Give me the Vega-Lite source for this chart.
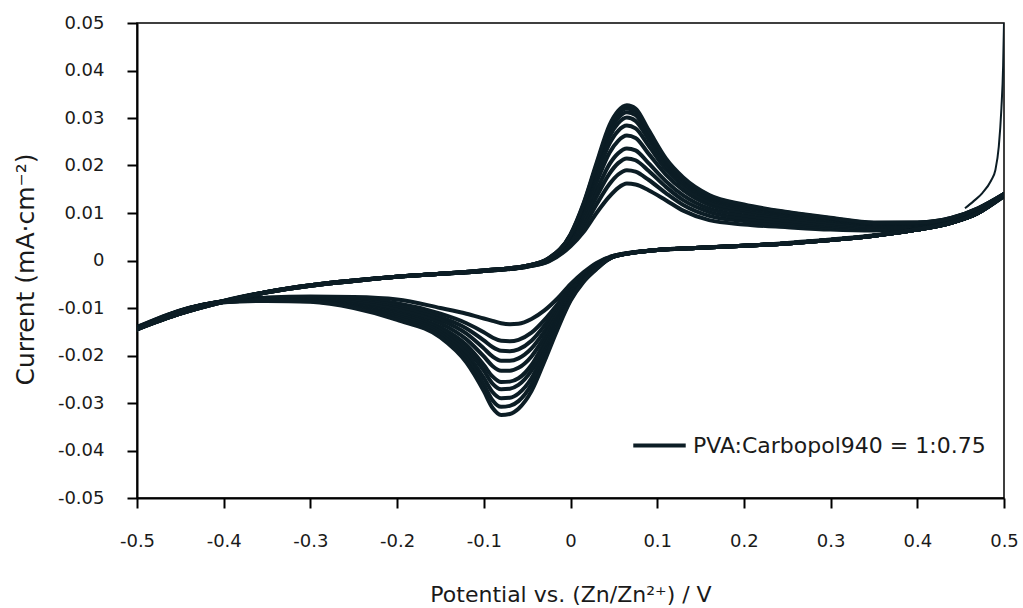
{
"$schema": "https://vega.github.io/schema/vega-lite/v6.json",
"width": 867, "height": 475,
"autosize": {"type": "none"},
"padding": {"left": 137, "top": 23, "right": 19, "bottom": 110},
"background": "white",
"config": {
  "font": "DejaVu Sans",
  "view": {"stroke": "#000", "strokeWidth": 1.5},
  "axis": {"grid": false, "domainColor": "#000", "domainWidth": 2, "tickColor": "#000", "tickWidth": 2, "tickSize": 10,
           "labelFontSize": 18, "labelColor": "#1a1a1a", "titleFontWeight": "normal", "titleColor": "#1a1a1a", "labelFlush": false}
},
"datasets": {
"cv": [
{"c":"f1","x":-0.5,"y":-0.014},{"c":"f1","x":-0.45,"y":-0.011},{"c":"f1","x":-0.4,"y":-0.0085},{"c":"f1","x":-0.35,"y":-0.0066},{"c":"f1","x":-0.3,"y":-0.0052},{"c":"f1","x":-0.25,"y":-0.0042},{"c":"f1","x":-0.2,"y":-0.0034},{"c":"f1","x":-0.15,"y":-0.0028},{"c":"f1","x":-0.1,"y":-0.0022},{"c":"f1","x":-0.05,"y":-0.0013},{"c":"f1","x":-0.025,"y":-0.0002},{"c":"f1","x":0,"y":0.003},{"c":"f1","x":0.015,"y":0.006},{"c":"f1","x":0.03,"y":0.01},{"c":"f1","x":0.045,"y":0.0135},{"c":"f1","x":0.055,"y":0.0153},{"c":"f1","x":0.065,"y":0.0162},{"c":"f1","x":0.075,"y":0.016},{"c":"f1","x":0.09,"y":0.0148},{"c":"f1","x":0.11,"y":0.0127},{"c":"f1","x":0.13,"y":0.0105},{"c":"f1","x":0.16,"y":0.0085},{"c":"f1","x":0.2,"y":0.0076},{"c":"f1","x":0.25,"y":0.007},{"c":"f1","x":0.3,"y":0.0065},{"c":"f1","x":0.35,"y":0.0063},{"c":"f1","x":0.4,"y":0.0068},{"c":"f1","x":0.44,"y":0.0082},{"c":"f1","x":0.47,"y":0.0103},{"c":"f1","x":0.5,"y":0.0135},
{"c":"r1","x":0.5,"y":0.0135},{"c":"r1","x":0.47,"y":0.01},{"c":"r1","x":0.44,"y":0.008},{"c":"r1","x":0.4,"y":0.0065},{"c":"r1","x":0.35,"y":0.0052},{"c":"r1","x":0.3,"y":0.0043},{"c":"r1","x":0.25,"y":0.0036},{"c":"r1","x":0.2,"y":0.0031},{"c":"r1","x":0.15,"y":0.0027},{"c":"r1","x":0.1,"y":0.0022},{"c":"r1","x":0.05,"y":0.001},{"c":"r1","x":0.03,"y":-0.0005},{"c":"r1","x":0.015,"y":-0.0025},{"c":"r1","x":0,"y":-0.005},{"c":"r1","x":-0.015,"y":-0.008},{"c":"r1","x":-0.03,"y":-0.0105},{"c":"r1","x":-0.045,"y":-0.0123},{"c":"r1","x":-0.06,"y":-0.0133},{"c":"r1","x":-0.07,"y":-0.0134},{"c":"r1","x":-0.08,"y":-0.0132},{"c":"r1","x":-0.09,"y":-0.0127},{"c":"r1","x":-0.1,"y":-0.0122},{"c":"r1","x":-0.12,"y":-0.0112},{"c":"r1","x":-0.15,"y":-0.01},{"c":"r1","x":-0.2,"y":-0.0082},{"c":"r1","x":-0.25,"y":-0.0077},{"c":"r1","x":-0.3,"y":-0.0076},{"c":"r1","x":-0.35,"y":-0.0078},{"c":"r1","x":-0.4,"y":-0.0085},{"c":"r1","x":-0.45,"y":-0.0105},{"c":"r1","x":-0.5,"y":-0.014},
{"c":"f2","x":-0.5,"y":-0.0141},{"c":"f2","x":-0.45,"y":-0.011},{"c":"f2","x":-0.4,"y":-0.0085},{"c":"f2","x":-0.35,"y":-0.0066},{"c":"f2","x":-0.3,"y":-0.0052},{"c":"f2","x":-0.25,"y":-0.0042},{"c":"f2","x":-0.2,"y":-0.0034},{"c":"f2","x":-0.15,"y":-0.0028},{"c":"f2","x":-0.1,"y":-0.0022},{"c":"f2","x":-0.05,"y":-0.0013},{"c":"f2","x":-0.025,"y":-0.0001},{"c":"f2","x":0,"y":0.0034},{"c":"f2","x":0.015,"y":0.007},{"c":"f2","x":0.03,"y":0.0118},{"c":"f2","x":0.045,"y":0.0161},{"c":"f2","x":0.055,"y":0.0181},{"c":"f2","x":0.065,"y":0.019},{"c":"f2","x":0.075,"y":0.0187},{"c":"f2","x":0.09,"y":0.017},{"c":"f2","x":0.11,"y":0.0142},{"c":"f2","x":0.13,"y":0.0117},{"c":"f2","x":0.16,"y":0.0094},{"c":"f2","x":0.2,"y":0.0083},{"c":"f2","x":0.25,"y":0.0075},{"c":"f2","x":0.3,"y":0.0069},{"c":"f2","x":0.35,"y":0.0066},{"c":"f2","x":0.4,"y":0.007},{"c":"f2","x":0.44,"y":0.0083},{"c":"f2","x":0.47,"y":0.0104},{"c":"f2","x":0.5,"y":0.0136},
{"c":"r2","x":0.5,"y":0.0136},{"c":"r2","x":0.47,"y":0.01},{"c":"r2","x":0.44,"y":0.008},{"c":"r2","x":0.4,"y":0.0065},{"c":"r2","x":0.35,"y":0.0052},{"c":"r2","x":0.3,"y":0.0043},{"c":"r2","x":0.25,"y":0.0036},{"c":"r2","x":0.2,"y":0.0031},{"c":"r2","x":0.15,"y":0.0027},{"c":"r2","x":0.1,"y":0.0022},{"c":"r2","x":0.05,"y":0.001},{"c":"r2","x":0.03,"y":-0.0007},{"c":"r2","x":0.015,"y":-0.0029},{"c":"r2","x":0,"y":-0.0057},{"c":"r2","x":-0.015,"y":-0.0092},{"c":"r2","x":-0.03,"y":-0.0125},{"c":"r2","x":-0.045,"y":-0.0152},{"c":"r2","x":-0.06,"y":-0.0167},{"c":"r2","x":-0.07,"y":-0.017},{"c":"r2","x":-0.08,"y":-0.0169},{"c":"r2","x":-0.09,"y":-0.0162},{"c":"r2","x":-0.1,"y":-0.0151},{"c":"r2","x":-0.12,"y":-0.0132},{"c":"r2","x":-0.15,"y":-0.0112},{"c":"r2","x":-0.2,"y":-0.009},{"c":"r2","x":-0.25,"y":-0.0081},{"c":"r2","x":-0.3,"y":-0.0078},{"c":"r2","x":-0.35,"y":-0.0079},{"c":"r2","x":-0.4,"y":-0.0086},{"c":"r2","x":-0.45,"y":-0.0105},{"c":"r2","x":-0.5,"y":-0.0141},
{"c":"f3","x":-0.5,"y":-0.0142},{"c":"f3","x":-0.45,"y":-0.0111},{"c":"f3","x":-0.4,"y":-0.0085},{"c":"f3","x":-0.35,"y":-0.0066},{"c":"f3","x":-0.3,"y":-0.0052},{"c":"f3","x":-0.25,"y":-0.0042},{"c":"f3","x":-0.2,"y":-0.0034},{"c":"f3","x":-0.15,"y":-0.0028},{"c":"f3","x":-0.1,"y":-0.0022},{"c":"f3","x":-0.05,"y":-0.0012},{"c":"f3","x":-0.025,"y":0},{"c":"f3","x":0,"y":0.0038},{"c":"f3","x":0.015,"y":0.0079},{"c":"f3","x":0.03,"y":0.0134},{"c":"f3","x":0.045,"y":0.0183},{"c":"f3","x":0.055,"y":0.0205},{"c":"f3","x":0.065,"y":0.0215},{"c":"f3","x":0.075,"y":0.0211},{"c":"f3","x":0.09,"y":0.0189},{"c":"f3","x":0.11,"y":0.0155},{"c":"f3","x":0.13,"y":0.0127},{"c":"f3","x":0.16,"y":0.0102},{"c":"f3","x":0.2,"y":0.0089},{"c":"f3","x":0.25,"y":0.008},{"c":"f3","x":0.3,"y":0.0073},{"c":"f3","x":0.35,"y":0.0068},{"c":"f3","x":0.4,"y":0.0072},{"c":"f3","x":0.44,"y":0.0085},{"c":"f3","x":0.47,"y":0.0105},{"c":"f3","x":0.5,"y":0.0137},
{"c":"r3","x":0.5,"y":0.0137},{"c":"r3","x":0.47,"y":0.01},{"c":"r3","x":0.44,"y":0.008},{"c":"r3","x":0.4,"y":0.0065},{"c":"r3","x":0.35,"y":0.0052},{"c":"r3","x":0.3,"y":0.0043},{"c":"r3","x":0.25,"y":0.0036},{"c":"r3","x":0.2,"y":0.0031},{"c":"r3","x":0.15,"y":0.0027},{"c":"r3","x":0.1,"y":0.0022},{"c":"r3","x":0.05,"y":0.0009},{"c":"r3","x":0.03,"y":-0.0009},{"c":"r3","x":0.015,"y":-0.0031},{"c":"r3","x":0,"y":-0.0061},{"c":"r3","x":-0.015,"y":-0.01},{"c":"r3","x":-0.03,"y":-0.0137},{"c":"r3","x":-0.045,"y":-0.0169},{"c":"r3","x":-0.06,"y":-0.0187},{"c":"r3","x":-0.07,"y":-0.0191},{"c":"r3","x":-0.08,"y":-0.019},{"c":"r3","x":-0.09,"y":-0.0182},{"c":"r3","x":-0.1,"y":-0.0168},{"c":"r3","x":-0.12,"y":-0.0143},{"c":"r3","x":-0.15,"y":-0.0119},{"c":"r3","x":-0.2,"y":-0.0095},{"c":"r3","x":-0.25,"y":-0.0084},{"c":"r3","x":-0.3,"y":-0.0079},{"c":"r3","x":-0.35,"y":-0.008},{"c":"r3","x":-0.4,"y":-0.0086},{"c":"r3","x":-0.45,"y":-0.0106},{"c":"r3","x":-0.5,"y":-0.0142},
{"c":"f4","x":-0.5,"y":-0.0142},{"c":"f4","x":-0.45,"y":-0.0111},{"c":"f4","x":-0.4,"y":-0.0086},{"c":"f4","x":-0.35,"y":-0.0066},{"c":"f4","x":-0.3,"y":-0.0052},{"c":"f4","x":-0.25,"y":-0.0042},{"c":"f4","x":-0.2,"y":-0.0034},{"c":"f4","x":-0.15,"y":-0.0028},{"c":"f4","x":-0.1,"y":-0.0022},{"c":"f4","x":-0.05,"y":-0.0012},{"c":"f4","x":-0.025,"y":0.0001},{"c":"f4","x":0,"y":0.0041},{"c":"f4","x":0.015,"y":0.0087},{"c":"f4","x":0.03,"y":0.0147},{"c":"f4","x":0.045,"y":0.0203},{"c":"f4","x":0.055,"y":0.0226},{"c":"f4","x":0.065,"y":0.0236},{"c":"f4","x":0.075,"y":0.0232},{"c":"f4","x":0.09,"y":0.0205},{"c":"f4","x":0.11,"y":0.0167},{"c":"f4","x":0.13,"y":0.0137},{"c":"f4","x":0.16,"y":0.0109},{"c":"f4","x":0.2,"y":0.0095},{"c":"f4","x":0.25,"y":0.0084},{"c":"f4","x":0.3,"y":0.0076},{"c":"f4","x":0.35,"y":0.0071},{"c":"f4","x":0.4,"y":0.0073},{"c":"f4","x":0.44,"y":0.0086},{"c":"f4","x":0.47,"y":0.0106},{"c":"f4","x":0.5,"y":0.0137},
{"c":"r4","x":0.5,"y":0.0137},{"c":"r4","x":0.47,"y":0.01},{"c":"r4","x":0.44,"y":0.008},{"c":"r4","x":0.4,"y":0.0065},{"c":"r4","x":0.35,"y":0.0052},{"c":"r4","x":0.3,"y":0.0043},{"c":"r4","x":0.25,"y":0.0036},{"c":"r4","x":0.2,"y":0.0031},{"c":"r4","x":0.15,"y":0.0027},{"c":"r4","x":0.1,"y":0.0022},{"c":"r4","x":0.05,"y":0.0009},{"c":"r4","x":0.03,"y":-0.001},{"c":"r4","x":0.015,"y":-0.0033},{"c":"r4","x":0,"y":-0.0064},{"c":"r4","x":-0.015,"y":-0.0107},{"c":"r4","x":-0.03,"y":-0.0149},{"c":"r4","x":-0.045,"y":-0.0185},{"c":"r4","x":-0.06,"y":-0.0206},{"c":"r4","x":-0.07,"y":-0.0211},{"c":"r4","x":-0.08,"y":-0.0211},{"c":"r4","x":-0.09,"y":-0.0202},{"c":"r4","x":-0.1,"y":-0.0185},{"c":"r4","x":-0.12,"y":-0.0154},{"c":"r4","x":-0.15,"y":-0.0125},{"c":"r4","x":-0.2,"y":-0.01},{"c":"r4","x":-0.25,"y":-0.0086},{"c":"r4","x":-0.3,"y":-0.0081},{"c":"r4","x":-0.35,"y":-0.0081},{"c":"r4","x":-0.4,"y":-0.0086},{"c":"r4","x":-0.45,"y":-0.0106},{"c":"r4","x":-0.5,"y":-0.0142},
{"c":"f5","x":-0.5,"y":-0.0143},{"c":"f5","x":-0.45,"y":-0.0111},{"c":"f5","x":-0.4,"y":-0.0086},{"c":"f5","x":-0.35,"y":-0.0066},{"c":"f5","x":-0.3,"y":-0.0052},{"c":"f5","x":-0.25,"y":-0.0042},{"c":"f5","x":-0.2,"y":-0.0034},{"c":"f5","x":-0.15,"y":-0.0028},{"c":"f5","x":-0.1,"y":-0.0022},{"c":"f5","x":-0.05,"y":-0.0012},{"c":"f5","x":-0.025,"y":0.0002},{"c":"f5","x":0,"y":0.0045},{"c":"f5","x":0.015,"y":0.0097},{"c":"f5","x":0.03,"y":0.0164},{"c":"f5","x":0.045,"y":0.0227},{"c":"f5","x":0.055,"y":0.0252},{"c":"f5","x":0.065,"y":0.0263},{"c":"f5","x":0.075,"y":0.0258},{"c":"f5","x":0.09,"y":0.0225},{"c":"f5","x":0.11,"y":0.0181},{"c":"f5","x":0.13,"y":0.0148},{"c":"f5","x":0.16,"y":0.0117},{"c":"f5","x":0.2,"y":0.0102},{"c":"f5","x":0.25,"y":0.009},{"c":"f5","x":0.3,"y":0.008},{"c":"f5","x":0.35,"y":0.0073},{"c":"f5","x":0.4,"y":0.0075},{"c":"f5","x":0.44,"y":0.0087},{"c":"f5","x":0.47,"y":0.0107},{"c":"f5","x":0.5,"y":0.0138},
{"c":"r5","x":0.5,"y":0.0138},{"c":"r5","x":0.47,"y":0.01},{"c":"r5","x":0.44,"y":0.008},{"c":"r5","x":0.4,"y":0.0065},{"c":"r5","x":0.35,"y":0.0052},{"c":"r5","x":0.3,"y":0.0043},{"c":"r5","x":0.25,"y":0.0036},{"c":"r5","x":0.2,"y":0.0031},{"c":"r5","x":0.15,"y":0.0027},{"c":"r5","x":0.1,"y":0.0022},{"c":"r5","x":0.05,"y":0.0009},{"c":"r5","x":0.03,"y":-0.0012},{"c":"r5","x":0.015,"y":-0.0035},{"c":"r5","x":0,"y":-0.0068},{"c":"r5","x":-0.015,"y":-0.0114},{"c":"r5","x":-0.03,"y":-0.0161},{"c":"r5","x":-0.045,"y":-0.0202},{"c":"r5","x":-0.06,"y":-0.0226},{"c":"r5","x":-0.07,"y":-0.0232},{"c":"r5","x":-0.08,"y":-0.0232},{"c":"r5","x":-0.09,"y":-0.0222},{"c":"r5","x":-0.1,"y":-0.0202},{"c":"r5","x":-0.12,"y":-0.0166},{"c":"r5","x":-0.15,"y":-0.0132},{"c":"r5","x":-0.2,"y":-0.0104},{"c":"r5","x":-0.25,"y":-0.0089},{"c":"r5","x":-0.3,"y":-0.0082},{"c":"r5","x":-0.35,"y":-0.0082},{"c":"r5","x":-0.4,"y":-0.0087},{"c":"r5","x":-0.45,"y":-0.0106},{"c":"r5","x":-0.5,"y":-0.0143},
{"c":"f6","x":-0.5,"y":-0.0144},{"c":"f6","x":-0.45,"y":-0.0111},{"c":"f6","x":-0.4,"y":-0.0086},{"c":"f6","x":-0.35,"y":-0.0067},{"c":"f6","x":-0.3,"y":-0.0053},{"c":"f6","x":-0.25,"y":-0.0043},{"c":"f6","x":-0.2,"y":-0.0034},{"c":"f6","x":-0.15,"y":-0.0028},{"c":"f6","x":-0.1,"y":-0.0021},{"c":"f6","x":-0.05,"y":-0.0012},{"c":"f6","x":-0.025,"y":0.0003},{"c":"f6","x":0,"y":0.0049},{"c":"f6","x":0.015,"y":0.0104},{"c":"f6","x":0.03,"y":0.0178},{"c":"f6","x":0.045,"y":0.0246},{"c":"f6","x":0.055,"y":0.0273},{"c":"f6","x":0.065,"y":0.0284},{"c":"f6","x":0.075,"y":0.0278},{"c":"f6","x":0.09,"y":0.0242},{"c":"f6","x":0.11,"y":0.0192},{"c":"f6","x":0.13,"y":0.0157},{"c":"f6","x":0.16,"y":0.0124},{"c":"f6","x":0.2,"y":0.0107},{"c":"f6","x":0.25,"y":0.0094},{"c":"f6","x":0.3,"y":0.0084},{"c":"f6","x":0.35,"y":0.0076},{"c":"f6","x":0.4,"y":0.0077},{"c":"f6","x":0.44,"y":0.0088},{"c":"f6","x":0.47,"y":0.0108},{"c":"f6","x":0.5,"y":0.0139},
{"c":"r6","x":0.5,"y":0.0139},{"c":"r6","x":0.47,"y":0.01},{"c":"r6","x":0.44,"y":0.008},{"c":"r6","x":0.4,"y":0.0065},{"c":"r6","x":0.35,"y":0.0052},{"c":"r6","x":0.3,"y":0.0043},{"c":"r6","x":0.25,"y":0.0036},{"c":"r6","x":0.2,"y":0.0031},{"c":"r6","x":0.15,"y":0.0027},{"c":"r6","x":0.1,"y":0.0022},{"c":"r6","x":0.05,"y":0.0009},{"c":"r6","x":0.03,"y":-0.0013},{"c":"r6","x":0.015,"y":-0.0038},{"c":"r6","x":0,"y":-0.0072},{"c":"r6","x":-0.015,"y":-0.0122},{"c":"r6","x":-0.03,"y":-0.0173},{"c":"r6","x":-0.045,"y":-0.022},{"c":"r6","x":-0.06,"y":-0.0248},{"c":"r6","x":-0.07,"y":-0.0255},{"c":"r6","x":-0.08,"y":-0.0256},{"c":"r6","x":-0.09,"y":-0.0244},{"c":"r6","x":-0.1,"y":-0.022},{"c":"r6","x":-0.12,"y":-0.0178},{"c":"r6","x":-0.15,"y":-0.014},{"c":"r6","x":-0.2,"y":-0.011},{"c":"r6","x":-0.25,"y":-0.0092},{"c":"r6","x":-0.3,"y":-0.0083},{"c":"r6","x":-0.35,"y":-0.0082},{"c":"r6","x":-0.4,"y":-0.0087},{"c":"r6","x":-0.45,"y":-0.0106},{"c":"r6","x":-0.5,"y":-0.0143},
{"c":"f7","x":-0.5,"y":-0.0144},{"c":"f7","x":-0.45,"y":-0.0112},{"c":"f7","x":-0.4,"y":-0.0087},{"c":"f7","x":-0.35,"y":-0.0067},{"c":"f7","x":-0.3,"y":-0.0053},{"c":"f7","x":-0.25,"y":-0.0043},{"c":"f7","x":-0.2,"y":-0.0034},{"c":"f7","x":-0.15,"y":-0.0028},{"c":"f7","x":-0.1,"y":-0.0021},{"c":"f7","x":-0.05,"y":-0.0011},{"c":"f7","x":-0.025,"y":0.0004},{"c":"f7","x":0,"y":0.0051},{"c":"f7","x":0.015,"y":0.011},{"c":"f7","x":0.03,"y":0.0188},{"c":"f7","x":0.045,"y":0.0261},{"c":"f7","x":0.055,"y":0.0289},{"c":"f7","x":0.065,"y":0.0301},{"c":"f7","x":0.075,"y":0.0294},{"c":"f7","x":0.09,"y":0.0255},{"c":"f7","x":0.11,"y":0.0201},{"c":"f7","x":0.13,"y":0.0164},{"c":"f7","x":0.16,"y":0.013},{"c":"f7","x":0.2,"y":0.0111},{"c":"f7","x":0.25,"y":0.0097},{"c":"f7","x":0.3,"y":0.0086},{"c":"f7","x":0.35,"y":0.0077},{"c":"f7","x":0.4,"y":0.0078},{"c":"f7","x":0.44,"y":0.0089},{"c":"f7","x":0.47,"y":0.0109},{"c":"f7","x":0.5,"y":0.0139},
{"c":"r7","x":0.5,"y":0.0139},{"c":"r7","x":0.47,"y":0.01},{"c":"r7","x":0.44,"y":0.008},{"c":"r7","x":0.4,"y":0.0065},{"c":"r7","x":0.35,"y":0.0052},{"c":"r7","x":0.3,"y":0.0043},{"c":"r7","x":0.25,"y":0.0036},{"c":"r7","x":0.2,"y":0.0031},{"c":"r7","x":0.15,"y":0.0027},{"c":"r7","x":0.1,"y":0.0022},{"c":"r7","x":0.05,"y":0.0009},{"c":"r7","x":0.03,"y":-0.0014},{"c":"r7","x":0.015,"y":-0.0039},{"c":"r7","x":0,"y":-0.0075},{"c":"r7","x":-0.015,"y":-0.0127},{"c":"r7","x":-0.03,"y":-0.0182},{"c":"r7","x":-0.045,"y":-0.0232},{"c":"r7","x":-0.06,"y":-0.0262},{"c":"r7","x":-0.07,"y":-0.027},{"c":"r7","x":-0.08,"y":-0.0271},{"c":"r7","x":-0.09,"y":-0.0259},{"c":"r7","x":-0.1,"y":-0.0232},{"c":"r7","x":-0.12,"y":-0.0186},{"c":"r7","x":-0.15,"y":-0.0145},{"c":"r7","x":-0.2,"y":-0.0113},{"c":"r7","x":-0.25,"y":-0.0094},{"c":"r7","x":-0.3,"y":-0.0084},{"c":"r7","x":-0.35,"y":-0.0083},{"c":"r7","x":-0.4,"y":-0.0087},{"c":"r7","x":-0.45,"y":-0.0106},{"c":"r7","x":-0.5,"y":-0.0144},
{"c":"f8","x":-0.5,"y":-0.0145},{"c":"f8","x":-0.45,"y":-0.0112},{"c":"f8","x":-0.4,"y":-0.0087},{"c":"f8","x":-0.35,"y":-0.0067},{"c":"f8","x":-0.3,"y":-0.0053},{"c":"f8","x":-0.25,"y":-0.0043},{"c":"f8","x":-0.2,"y":-0.0034},{"c":"f8","x":-0.15,"y":-0.0028},{"c":"f8","x":-0.1,"y":-0.0021},{"c":"f8","x":-0.05,"y":-0.0011},{"c":"f8","x":-0.025,"y":0.0004},{"c":"f8","x":0,"y":0.0053},{"c":"f8","x":0.015,"y":0.0115},{"c":"f8","x":0.03,"y":0.0196},{"c":"f8","x":0.045,"y":0.0272},{"c":"f8","x":0.055,"y":0.03},{"c":"f8","x":0.065,"y":0.0312},{"c":"f8","x":0.075,"y":0.0306},{"c":"f8","x":0.09,"y":0.0264},{"c":"f8","x":0.11,"y":0.0207},{"c":"f8","x":0.13,"y":0.0169},{"c":"f8","x":0.16,"y":0.0133},{"c":"f8","x":0.2,"y":0.0114},{"c":"f8","x":0.25,"y":0.0099},{"c":"f8","x":0.3,"y":0.0088},{"c":"f8","x":0.35,"y":0.0078},{"c":"f8","x":0.4,"y":0.0079},{"c":"f8","x":0.44,"y":0.0089},{"c":"f8","x":0.47,"y":0.0109},{"c":"f8","x":0.5,"y":0.014},
{"c":"r8","x":0.5,"y":0.014},{"c":"r8","x":0.47,"y":0.01},{"c":"r8","x":0.44,"y":0.008},{"c":"r8","x":0.4,"y":0.0065},{"c":"r8","x":0.35,"y":0.0052},{"c":"r8","x":0.3,"y":0.0043},{"c":"r8","x":0.25,"y":0.0036},{"c":"r8","x":0.2,"y":0.0031},{"c":"r8","x":0.15,"y":0.0027},{"c":"r8","x":0.1,"y":0.0022},{"c":"r8","x":0.05,"y":0.0008},{"c":"r8","x":0.03,"y":-0.0016},{"c":"r8","x":0.015,"y":-0.0041},{"c":"r8","x":0,"y":-0.0079},{"c":"r8","x":-0.015,"y":-0.0133},{"c":"r8","x":-0.03,"y":-0.0193},{"c":"r8","x":-0.045,"y":-0.0248},{"c":"r8","x":-0.06,"y":-0.028},{"c":"r8","x":-0.07,"y":-0.0289},{"c":"r8","x":-0.08,"y":-0.029},{"c":"r8","x":-0.09,"y":-0.0277},{"c":"r8","x":-0.1,"y":-0.0247},{"c":"r8","x":-0.12,"y":-0.0196},{"c":"r8","x":-0.15,"y":-0.0151},{"c":"r8","x":-0.2,"y":-0.0117},{"c":"r8","x":-0.25,"y":-0.0096},{"c":"r8","x":-0.3,"y":-0.0085},{"c":"r8","x":-0.35,"y":-0.0084},{"c":"r8","x":-0.4,"y":-0.0087},{"c":"r8","x":-0.45,"y":-0.0107},{"c":"r8","x":-0.5,"y":-0.0144},
{"c":"f9","x":-0.5,"y":-0.0145},{"c":"f9","x":-0.45,"y":-0.0112},{"c":"f9","x":-0.4,"y":-0.0087},{"c":"f9","x":-0.35,"y":-0.0067},{"c":"f9","x":-0.3,"y":-0.0053},{"c":"f9","x":-0.25,"y":-0.0043},{"c":"f9","x":-0.2,"y":-0.0034},{"c":"f9","x":-0.15,"y":-0.0028},{"c":"f9","x":-0.1,"y":-0.0021},{"c":"f9","x":-0.05,"y":-0.0011},{"c":"f9","x":-0.025,"y":0.0005},{"c":"f9","x":0,"y":0.0054},{"c":"f9","x":0.015,"y":0.0118},{"c":"f9","x":0.03,"y":0.0201},{"c":"f9","x":0.045,"y":0.0279},{"c":"f9","x":0.055,"y":0.0309},{"c":"f9","x":0.065,"y":0.032},{"c":"f9","x":0.075,"y":0.0314},{"c":"f9","x":0.09,"y":0.027},{"c":"f9","x":0.11,"y":0.0211},{"c":"f9","x":0.13,"y":0.0172},{"c":"f9","x":0.16,"y":0.0136},{"c":"f9","x":0.2,"y":0.0116},{"c":"f9","x":0.25,"y":0.0101},{"c":"f9","x":0.3,"y":0.0089},{"c":"f9","x":0.35,"y":0.0079},{"c":"f9","x":0.4,"y":0.008},{"c":"f9","x":0.44,"y":0.009},{"c":"f9","x":0.47,"y":0.011},{"c":"f9","x":0.5,"y":0.014},
{"c":"r9","x":0.5,"y":0.014},{"c":"r9","x":0.47,"y":0.01},{"c":"r9","x":0.44,"y":0.008},{"c":"r9","x":0.4,"y":0.0065},{"c":"r9","x":0.35,"y":0.0052},{"c":"r9","x":0.3,"y":0.0043},{"c":"r9","x":0.25,"y":0.0036},{"c":"r9","x":0.2,"y":0.0031},{"c":"r9","x":0.15,"y":0.0027},{"c":"r9","x":0.1,"y":0.0022},{"c":"r9","x":0.05,"y":0.0008},{"c":"r9","x":0.03,"y":-0.0017},{"c":"r9","x":0.015,"y":-0.0043},{"c":"r9","x":0,"y":-0.0082},{"c":"r9","x":-0.015,"y":-0.0139},{"c":"r9","x":-0.03,"y":-0.0202},{"c":"r9","x":-0.045,"y":-0.0261},{"c":"r9","x":-0.06,"y":-0.0296},{"c":"r9","x":-0.07,"y":-0.0306},{"c":"r9","x":-0.08,"y":-0.0308},{"c":"r9","x":-0.09,"y":-0.0294},{"c":"r9","x":-0.1,"y":-0.0261},{"c":"r9","x":-0.12,"y":-0.0206},{"c":"r9","x":-0.15,"y":-0.0156},{"c":"r9","x":-0.2,"y":-0.0121},{"c":"r9","x":-0.25,"y":-0.0098},{"c":"r9","x":-0.3,"y":-0.0086},{"c":"r9","x":-0.35,"y":-0.0084},{"c":"r9","x":-0.4,"y":-0.0088},{"c":"r9","x":-0.45,"y":-0.0107},{"c":"r9","x":-0.5,"y":-0.0145},
{"c":"f10","x":-0.5,"y":-0.0145},{"c":"f10","x":-0.45,"y":-0.0112},{"c":"f10","x":-0.4,"y":-0.0087},{"c":"f10","x":-0.35,"y":-0.0067},{"c":"f10","x":-0.3,"y":-0.0053},{"c":"f10","x":-0.25,"y":-0.0043},{"c":"f10","x":-0.2,"y":-0.0034},{"c":"f10","x":-0.15,"y":-0.0028},{"c":"f10","x":-0.1,"y":-0.0021},{"c":"f10","x":-0.05,"y":-0.0011},{"c":"f10","x":-0.025,"y":0.0005},{"c":"f10","x":0,"y":0.0055},{"c":"f10","x":0.015,"y":0.012},{"c":"f10","x":0.03,"y":0.0205},{"c":"f10","x":0.045,"y":0.0285},{"c":"f10","x":0.055,"y":0.0315},{"c":"f10","x":0.065,"y":0.0327},{"c":"f10","x":0.075,"y":0.032},{"c":"f10","x":0.09,"y":0.0275},{"c":"f10","x":0.11,"y":0.0215},{"c":"f10","x":0.13,"y":0.0175},{"c":"f10","x":0.16,"y":0.0138},{"c":"f10","x":0.2,"y":0.0118},{"c":"f10","x":0.25,"y":0.0102},{"c":"f10","x":0.3,"y":0.009},{"c":"f10","x":0.35,"y":0.008},{"c":"f10","x":0.4,"y":0.008},{"c":"f10","x":0.44,"y":0.009},{"c":"f10","x":0.47,"y":0.011},{"c":"f10","x":0.5,"y":0.014},
{"c":"r10","x":0.5,"y":0.014},{"c":"r10","x":0.47,"y":0.01},{"c":"r10","x":0.44,"y":0.008},{"c":"r10","x":0.4,"y":0.0066},{"c":"r10","x":0.35,"y":0.0053},{"c":"r10","x":0.3,"y":0.0044},{"c":"r10","x":0.25,"y":0.0037},{"c":"r10","x":0.2,"y":0.0031},{"c":"r10","x":0.15,"y":0.0027},{"c":"r10","x":0.1,"y":0.0022},{"c":"r10","x":0.05,"y":0.0008},{"c":"r10","x":0.03,"y":-0.0018},{"c":"r10","x":0.015,"y":-0.0045},{"c":"r10","x":0,"y":-0.0085},{"c":"r10","x":-0.015,"y":-0.0145},{"c":"r10","x":-0.03,"y":-0.0212},{"c":"r10","x":-0.045,"y":-0.0275},{"c":"r10","x":-0.06,"y":-0.0312},{"c":"r10","x":-0.07,"y":-0.0323},{"c":"r10","x":-0.08,"y":-0.0325},{"c":"r10","x":-0.09,"y":-0.031},{"c":"r10","x":-0.1,"y":-0.0275},{"c":"r10","x":-0.12,"y":-0.0215},{"c":"r10","x":-0.15,"y":-0.0162},{"c":"r10","x":-0.2,"y":-0.0125},{"c":"r10","x":-0.25,"y":-0.01},{"c":"r10","x":-0.3,"y":-0.0087},{"c":"r10","x":-0.35,"y":-0.0085},{"c":"r10","x":-0.4,"y":-0.0088},{"c":"r10","x":-0.45,"y":-0.0107},{"c":"r10","x":-0.5,"y":-0.0145}
],
"spike": [
{"x":0.455,"y":0.011},{"x":0.465,"y":0.0125},{"x":0.475,"y":0.0142},{"x":0.485,"y":0.0168},{"x":0.49,"y":0.019},{"x":0.494,"y":0.024},{"x":0.497,"y":0.032},{"x":0.499,"y":0.041},{"x":0.5,"y":0.05}
]
},
"layer": [
{
  "data": {"name": "cv"},
  "mark": {"type": "line", "strokeWidth": 4, "strokeJoin": "round", "strokeCap": "round", "interpolate": "monotone", "clip": true},
  "encoding": {
    "x": {"field": "x", "type": "quantitative",
          "scale": {"domain": [-0.5, 0.5], "nice": false, "zero": false},
          "axis": {"values": [-0.5,-0.4,-0.3,-0.2,-0.1,0,0.1,0.2,0.3,0.4,0.5],
                   "labelExpr": "datum.value == 0 ? '0' : replace(format(datum.value, '.1f'), '\u2212', '-')",
                   "labelPadding": 24, "title": "Potential vs. (Zn/Zn²⁺) / V", "titleFontSize": 22, "titleY": 103, "titleBaseline": "alphabetic"}},
    "y": {"field": "y", "type": "quantitative",
          "scale": {"domain": [-0.05, 0.05], "nice": false, "zero": false},
          "axis": {"values": [-0.05,-0.04,-0.03,-0.02,-0.01,0,0.01,0.02,0.03,0.04,0.05],
                   "labelExpr": "datum.value == 0 ? '0' : replace(format(datum.value, '.2f'), '\u2212', '-')",
                   "labelPadding": 23, "title": "Current (mA·cm⁻²)", "titleFontSize": 25, "titleX": -104, "titleY": 246,
                   "titleAngle": 270, "titleBaseline": "alphabetic", "titleAlign": "center"}},
    "detail": {"field": "c", "type": "nominal"},
    "color": {"datum": "PVA:Carbopol940 = 1:0.75", "type": "nominal",
              "scale": {"range": ["#0c1d25"]},
              "legend": {"title": null, "orient": "none", "legendX": 494, "legendY": 394,
                         "symbolType": "stroke", "symbolStrokeWidth": 4, "symbolSize": 2750,
                         "labelFontSize": 22, "labelOffset": 5, "labelLimit": 500, "labelColor": "#1a1a1a", "padding": 0}}
  }
},
{
  "data": {"name": "spike"},
  "mark": {"type": "line", "strokeWidth": 2, "color": "#0c1d25", "interpolate": "monotone", "clip": true},
  "encoding": {
    "x": {"field": "x", "type": "quantitative"},
    "y": {"field": "y", "type": "quantitative"}
  }
}
]
}
